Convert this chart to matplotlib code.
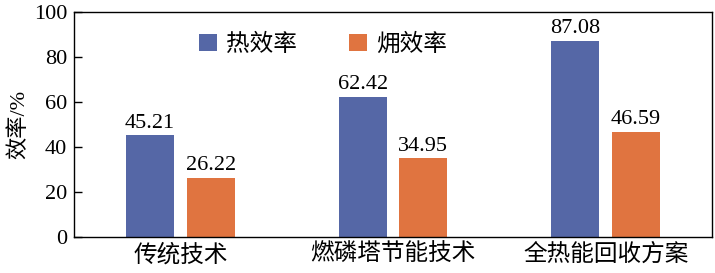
import matplotlib
matplotlib.use("Agg")
import numpy as np
import matplotlib.pyplot as plt

categories = ["传统技术", "燃磷塔节能技术", "全热能回收方案"]
series_names = ["热效率", "㶲效率"]
heat_eff = [45.21, 62.42, 87.08]
exergy_eff = [26.22, 34.95, 46.59]
yticks = [0, 20, 40, 60, 80, 100]

fonts = ["Liberation Serif", "Noto Sans CJK SC", "DejaVu Sans"]
plt.rcParams["font.family"] = fonts

fig = plt.figure(figsize=(7.15, 2.73), dpi=100)
ax = fig.add_axes([74 / 715, 36 / 273, 638 / 715, 225 / 273])

x = np.arange(len(categories))
w = 0.225
off = 0.143
b1 = ax.bar(x - off, heat_eff, w, color="#5567a6", label=series_names[0])
b2 = ax.bar(x + off, exergy_eff, w, color="#e07440", label=series_names[1])

for bars, vals in ((b1, heat_eff), (b2, exergy_eff)):
  for r, v in zip(bars, vals):
    ax.text(r.get_x() + r.get_width() / 2, v + 1.2, "%.2f" % v,
            ha="center", va="bottom", fontsize=16, family=fonts)

ax.set_xlim(-0.5, 2.5)
ax.set_ylim(0, 100)
ax.set_yticks(yticks)
ax.set_yticklabels([str(t) for t in yticks], fontsize=16)
ax.set_xticks(x)
ax.set_xticklabels(categories, fontsize=17)
ax.tick_params(axis="y", direction="in", length=6, width=1, pad=5)
ax.tick_params(axis="x", length=0, pad=5)
ax.set_ylabel("效率/%", fontsize=16, labelpad=3)
for s in ax.spines.values():
  s.set_linewidth(1)

ax.legend(loc="upper center", bbox_to_anchor=(0.39, 1.0), ncol=2, frameon=False,
          fontsize=17, handlelength=0.75, handleheight=0.75, columnspacing=2.2,
          handletextpad=0.4)

fig.savefig("out.png", dpi=100)
